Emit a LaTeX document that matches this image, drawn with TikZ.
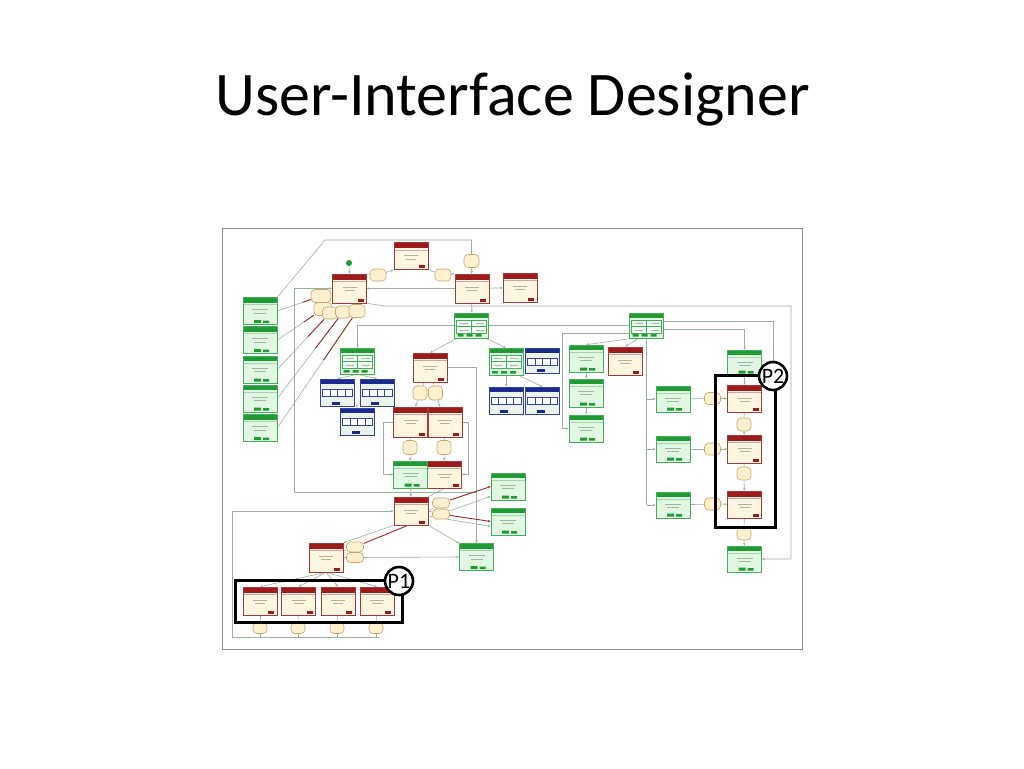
\documentclass[tikz,border=0pt]{standalone}
\usepackage{fontspec}
\setmainfont{Carlito}
\usetikzlibrary{arrows.meta,calc}
\definecolor{rh}{HTML}{9E1B1B}
\definecolor{rb}{HTML}{A33A3A}
\definecolor{rf}{HTML}{FFF6DF}
\definecolor{gh}{HTML}{1F9A35}
\definecolor{gb}{HTML}{45AE5C}
\definecolor{gf}{HTML}{E2F7E2}
\definecolor{bh}{HTML}{1B2A8C}
\definecolor{bb}{HTML}{34449E}
\definecolor{bf}{HTML}{E9F5EC}
\definecolor{of}{HTML}{FFF1D0}
\definecolor{ob}{HTML}{C6A66A}
\definecolor{lc}{HTML}{9DB0A0}
\definecolor{rlc}{HTML}{9C2B2B}
\definecolor{tx}{HTML}{B9B09A}
\definecolor{gtx}{HTML}{9CB8A0}
\pgfdeclarelayer{back}
\pgfdeclarelayer{bg}
\pgfsetlayers{back,bg,main}
\tikzset{
 basebox/.style={minimum width=34pt, minimum height=27pt, inner sep=0pt, line width=0.6pt},
 rbox/.style={basebox, draw=rb, fill=rf, path picture={
   \fill[rh] (path picture bounding box.north west) rectangle ([yshift=-5.5pt]path picture bounding box.north east);
   \draw[rh!40, line width=0.4pt] ([yshift=-7.5pt]path picture bounding box.north west) -- ([yshift=-7.5pt]path picture bounding box.north east);
   \draw[tx, line width=0.8pt] ([xshift=-7pt,yshift=-13pt]path picture bounding box.north) -- ([xshift=7pt,yshift=-13pt]path picture bounding box.north)
     ([xshift=-5pt,yshift=-16.5pt]path picture bounding box.north) -- ([xshift=5pt,yshift=-16.5pt]path picture bounding box.north);
   \fill[rh] ([xshift=-9pt,yshift=1.5pt]path picture bounding box.south east) rectangle ([xshift=-3pt,yshift=4.5pt]path picture bounding box.south east);
   }},
 gbox/.style={basebox, draw=gb, fill=gf, path picture={
   \fill[gh] (path picture bounding box.north west) rectangle ([yshift=-5pt]path picture bounding box.north east);
   \draw[gb!50, line width=0.4pt] ([yshift=-7pt]path picture bounding box.north west) -- ([yshift=-7pt]path picture bounding box.north east);
   \draw[gtx, line width=0.8pt] ([xshift=-8pt,yshift=-12pt]path picture bounding box.north) -- ([xshift=8pt,yshift=-12pt]path picture bounding box.north)
     ([xshift=-6pt,yshift=-15.5pt]path picture bounding box.north) -- ([xshift=6pt,yshift=-15.5pt]path picture bounding box.north);
   \fill[gh] ([xshift=-6pt,yshift=1.5pt]path picture bounding box.south) rectangle ([xshift=1pt,yshift=4.5pt]path picture bounding box.south)
     ([xshift=3pt,yshift=1.5pt]path picture bounding box.south) rectangle ([xshift=9pt,yshift=4pt]path picture bounding box.south);
   }},
 hbox/.style={basebox, draw=gb, fill=gf, path picture={
   \fill[gh] (path picture bounding box.north west) rectangle ([yshift=-5pt]path picture bounding box.north east);
   \draw[gb, line width=0.4pt, fill=white!60!gf] ([xshift=2pt,yshift=-7pt]path picture bounding box.north west) rectangle ([xshift=-2pt,yshift=-20pt]path picture bounding box.north east);
   \draw[gb, line width=0.4pt] ([yshift=-7pt]path picture bounding box.north) -- ([yshift=-20pt]path picture bounding box.north)
     ([xshift=2pt,yshift=-13.5pt]path picture bounding box.north west) -- ([xshift=-2pt,yshift=-13.5pt]path picture bounding box.north east);
   \draw[gtx, line width=0.6pt] ([xshift=-12pt,yshift=-10.3pt]path picture bounding box.north) -- ([xshift=-4pt,yshift=-10.3pt]path picture bounding box.north)
     ([xshift=4pt,yshift=-10.3pt]path picture bounding box.north) -- ([xshift=12pt,yshift=-10.3pt]path picture bounding box.north)
     ([xshift=-12pt,yshift=-16.8pt]path picture bounding box.north) -- ([xshift=-4pt,yshift=-16.8pt]path picture bounding box.north)
     ([xshift=4pt,yshift=-16.8pt]path picture bounding box.north) -- ([xshift=12pt,yshift=-16.8pt]path picture bounding box.north);
   \fill[gh] ([xshift=-14pt,yshift=1.5pt]path picture bounding box.south) rectangle ([xshift=-8pt,yshift=4pt]path picture bounding box.south)
     ([xshift=-5pt,yshift=1.5pt]path picture bounding box.south) rectangle ([xshift=1pt,yshift=4pt]path picture bounding box.south)
     ([xshift=4pt,yshift=1.5pt]path picture bounding box.south) rectangle ([xshift=10pt,yshift=4pt]path picture bounding box.south);
   }},
 bbox/.style={basebox, draw=bb, fill=bf, path picture={
   \fill[bh] (path picture bounding box.north west) rectangle ([yshift=-5pt]path picture bounding box.north east);
   \draw[bb, line width=0.5pt, fill=white] ([xshift=2pt,yshift=-10pt]path picture bounding box.north west) rectangle ([xshift=-2pt,yshift=-17pt]path picture bounding box.north east);
   \draw[bb, line width=0.4pt] ([xshift=-7.5pt,yshift=-10pt]path picture bounding box.north) -- ([xshift=-7.5pt,yshift=-17pt]path picture bounding box.north)
     ([yshift=-10pt]path picture bounding box.north) -- ([yshift=-17pt]path picture bounding box.north)
     ([xshift=7.5pt,yshift=-10pt]path picture bounding box.north) -- ([xshift=7.5pt,yshift=-17pt]path picture bounding box.north);
   \fill[bh] ([xshift=-6pt,yshift=1.5pt]path picture bounding box.south) rectangle ([xshift=2pt,yshift=4.5pt]path picture bounding box.south);
   }},
 oval/.style={draw=ob, fill=of, line width=0.6pt, rounded corners=4pt, minimum width=16pt, minimum height=12pt, inner sep=0pt},
 conn/.style={draw=lc, line width=0.6pt},
 arr/.style={-{Stealth[length=3pt,width=2.4pt]}},
 rl/.style={draw=rlc, line width=0.9pt},
 pbox/.style={draw=black, line width=3pt, inner sep=0pt},
 pcirc/.style={circle, draw=black, fill=white, line width=2.6pt, minimum size=28pt, inner sep=0pt, font=\fontsize{22}{22}\selectfont},
}
\begin{document}
\begin{tikzpicture}[x=1pt,y=-1pt]
\useasboundingbox (0,0) rectangle (1024,768);
\begin{pgfonlayer}{back}
\fill[white] (0,0) rectangle (1024,768);
\end{pgfonlayer}
\node[anchor=base, font=\fontsize{62}{70}\selectfont] (title) at (512.5,115) {User-Interface Designer};
\node[draw=black!45, line width=1pt, minimum width=580pt, minimum height=421pt, inner sep=0pt] (frame) at (512,438.5) {};

% red boxes
\node[rbox] (rT) at (411,256) {};
\node[rbox, minimum height=29pt] (rL) at (349.5,288.5) {};
\node[rbox, minimum height=29pt] (rR) at (472,288.5) {};
\node[rbox, minimum height=29pt] (rRR) at (520,287.5) {};
\node[rbox, minimum height=29pt] (rM) at (430,367.5) {};
\node[rbox, minimum height=30pt] (rPa) at (410.5,422) {};
\node[rbox, minimum height=30pt] (rPb) at (445,422) {};
\node[rbox] (rS) at (444.5,474.5) {};
\node[rbox, minimum height=28pt] (rH) at (411,511) {};
\node[rbox, minimum height=29pt] (rQ) at (326,557.5) {};
\node[rbox, minimum height=28pt] (rPA) at (260,601) {};
\node[rbox, minimum height=28pt] (rPB) at (298.5,601) {};
\node[rbox, minimum height=28pt] (rPC) at (338,601) {};
\node[rbox, minimum height=28pt] (rPD) at (377,601) {};
\node[rbox, minimum height=28pt] (rX) at (625,361) {};
\node[rbox] (rV1) at (744.5,398.5) {};
\node[rbox, minimum height=28pt] (rV2) at (744.5,449) {};
\node[rbox] (rV3) at (744.5,504.5) {};

% green boxes
\node[gbox] (gL1) at (260,311) {};
\node[gbox] (gL2) at (260,340) {};
\node[gbox] (gL3) at (260,369.5) {};
\node[gbox] (gL4) at (260,398.5) {};
\node[gbox] (gL5) at (260,428) {};
\node[hbox, minimum height=25pt] (gH1) at (471.5,325.5) {};
\node[hbox, minimum height=25pt] (gH2) at (646.5,325.5) {};
\node[hbox, minimum height=26pt] (gA) at (357.5,361) {};
\node[hbox] (gB) at (506,361.5) {};
\node[gbox] (gC1) at (586,358.5) {};
\node[gbox, minimum height=28pt] (gC2) at (586,393) {};
\node[gbox] (gC3) at (586,428.5) {};
\node[gbox] (gS) at (410.5,474.5) {};
\node[gbox] (gE1) at (508,486.5) {};
\node[gbox] (gE2) at (508,521.5) {};
\node[gbox] (gF) at (476.5,557) {};
\node[gbox, minimum height=25pt] (gR0) at (744.5,362.5) {};
\node[gbox, minimum height=26pt] (gR1) at (673,399) {};
\node[gbox, minimum height=26pt] (gR2) at (673,449) {};
\node[gbox, minimum height=26pt] (gR3) at (673,505) {};
\node[gbox, minimum height=26pt] (gRB) at (744.5,559) {};

% blue boxes
\node[bbox] (b1) at (337.5,392.5) {};
\node[bbox] (b2) at (377,392.5) {};
\node[bbox] (b3) at (357.5,421.5) {};
\node[bbox, minimum height=25pt] (b4) at (542.5,360.5) {};
\node[bbox] (b5) at (506,400.5) {};
\node[bbox] (b6) at (542.5,400.5) {};

% ovals
\node[oval] (oA) at (378,275) {};
\node[oval] (oB) at (443,275) {};
\node[oval, minimum width=15pt, minimum height=13pt] (oC) at (471.5,261) {};
\node[oval, minimum width=20pt, minimum height=13pt] (oD1) at (321,296) {};
\node[oval, minimum width=18pt, minimum height=13pt] (oD2) at (323,309) {};
\node[oval, minimum width=15pt, minimum height=12pt] (oD3) at (330,313) {};
\node[oval, minimum width=15pt, minimum height=12pt] (oD4) at (343,312) {};
\node[oval, minimum width=16pt, minimum height=13pt] (oD5) at (357,311) {};
\node[oval, minimum width=14pt, minimum height=14pt] (oM1) at (420,393) {};
\node[oval, minimum width=14pt, minimum height=14pt] (oM2) at (435.5,393) {};
\node[oval, minimum width=14pt, minimum height=14pt] (oP1) at (410,447.5) {};
\node[oval, minimum width=14pt, minimum height=14pt] (oP2) at (444,447.5) {};
\node[oval, minimum width=17pt, minimum height=10pt] (oH1) at (441,503) {};
\node[oval, minimum width=17pt, minimum height=10pt] (oH2) at (441,514) {};
\node[oval, minimum width=17pt, minimum height=10pt] (oQ1) at (355,547) {};
\node[oval, minimum width=17pt, minimum height=10pt] (oQ2) at (355,557.5) {};
\node[oval, minimum width=14pt, minimum height=11pt] (oPa) at (260,628) {};
\node[oval, minimum width=14pt, minimum height=11pt] (oPb) at (298,628) {};
\node[oval, minimum width=14pt, minimum height=11pt] (oPc) at (337,628) {};
\node[oval, minimum width=14pt, minimum height=11pt] (oPd) at (376,628) {};
\node[oval] (oR1) at (712.5,398.5) {};
\node[oval] (oR2) at (712.5,449) {};
\node[oval] (oR3) at (712.5,504) {};
\node[oval, minimum width=14pt, minimum height=13pt] (oV1) at (744,424.5) {};
\node[oval, minimum width=14pt, minimum height=13pt] (oV2) at (744,473.5) {};
\node[oval, minimum width=14pt, minimum height=13pt] (oV3) at (744,533.5) {};

\node[circle, fill=gh, minimum size=6pt, inner sep=0pt] (dot) at (349,263) {};

% P groups
\node[pbox, minimum width=167pt, minimum height=42pt] (P1box) at (318.5,601) {};
\node[pcirc] (p1c) at (399,581) {P1};
\node[pbox, minimum width=60pt, minimum height=152pt] (P2box) at (745,451) {};
\node[pcirc] (p2c) at (773,376) {P2};

\coordinate (t1) at (325,240);
\coordinate (t2) at (471.5,240);
\coordinate (c1) at (385,306);
\coordinate (c2) at (791,306);
\coordinate (c3) at (791,559);
\coordinate (v1) at (294,288.5);
\coordinate (v2) at (294,492);
\coordinate (v3) at (477,492);
\coordinate (tl) at (232,511);
\coordinate (bl) at (232,637);
\coordinate (br) at (379,637);
\coordinate (h1) at (562,333.5);

\begin{pgfonlayer}{bg}
\draw[conn] (gL1.north east) -- (t1) -- (t2) -- (oC.north);
\draw[conn,arr] (oC) -- (rR);
\draw[conn,arr] (dot) -- (rL.north);
\draw[conn] (rL.north east) -- (oA);
\draw[conn,arr] (oA) -- (rT.south west);
\draw[conn] (rT.south east) -- (oB);
\draw[conn,arr] (oB) -- (rR.north west);
\draw[conn,arr] (rR) -- (rRR);
\draw[conn,arr] (rR.west) -- (rL.east);
\draw[conn,arr] (rL.south east) -- (c1) -- (c2) -- (c3) -- (gRB.east);
\draw[conn,arr] (v1) -- (rL.west);
\draw[conn] (v1) -- (v2) -- (v3);
\foreach \g/\o in {gL1/oD1, gL2/oD2, gL3/oD3, gL4/oD4, gL5/oD5} {
  \draw[conn] (\g.east) -- (\o);
  \draw[rl] (\o) -- ($(\o)!0.42!(\g.east)$);
}
\draw[conn,arr] (rR) -- (gH1);
\draw[conn,arr] (gH1.west) -| (gA.north);
\draw[conn] (gH1.east) -- (gH2.west);
\draw[conn,arr] ([xshift=3pt]gH1.south west) -- (rM.north);
\draw[conn,arr] ([xshift=-3pt]gH1.south east) -- (gB.north);
\draw[conn,arr] (gA.south) -- (b1.north);
\draw[conn,arr] (gA.south) -- (b2.north);
\draw[conn,arr] ($(b1.south east)!0.5!(b2.south west)$) -- (b3.north);
\draw[conn,arr] (gB.south) -- (b5.north);
\draw[conn,arr] ([xshift=-5pt]gB.south east) -- (b6.north);
\draw[conn] (rM) -- (oM1);
\draw[conn] (rM) -- (oM2);
\draw[conn,arr] (oM1) -- (rPa);
\draw[conn,arr] (oM2) -- (rPb);
\draw[conn,arr] (rM.east) -| (gF.north);
\draw[conn] (rPa) -- (oP1);
\draw[conn,arr] (oP1) -- (gS);
\draw[conn] (rPb) -- (oP2);
\draw[conn,arr] (oP2) -- (rS);
\draw[conn,arr] (rPa.west) -- ++(-10,0) |- (gS.west);
\draw[conn,arr] (rPb.east) -- ++(6,0) |- (rS.east);
\draw[conn,arr] (gS) -- (rH);
\draw[conn] (rS.south) -- (rH.north east);
\draw[conn] (rH.east) -- (oH1);
\draw[conn] (rH.east) -- (oH2);
\draw[rl,arr] (oH1) -- (gE1.west);
\draw[rl,arr] (oH2) -- (gE2.west);
\draw[conn,arr] (oH2) -- ([yshift=4pt]gE1.south west);
\draw[conn,arr] ([yshift=-5pt]rH.east) -- ([yshift=-5pt]gE2.west);
\draw[conn,arr] (rH.south west) -- (rQ.north east);
\draw[rl] ([xshift=-3pt]rH.south) -- (oQ1);
\draw[conn,arr] (rH.south east) -- (gF.north west);
\draw[conn] (rQ) -- (oQ1);
\draw[conn] (rQ) -- (oQ2);
\draw[conn,arr] (oQ2) -- (gF.west);
\foreach \p/\o in {rPA/oPa, rPB/oPb, rPC/oPc, rPD/oPd} {
  \draw[conn,arr] (rQ.south) -- (\p.north);
  \draw[conn] (\p) -- (\o);
  \draw[conn] (\o) -- (\o |- bl);
}
\draw[conn] (bl) -- (br);
\draw[conn,arr] (bl) -- (tl) -- (rH.west);
\draw[conn,arr] ([xshift=4pt]gH2.south west) -- (gC1.north);
\draw[conn,arr] ([yshift=-8pt]gH2.west) -- (h1) |- (gC3.west);
\draw[conn,arr] (gC1) -- (gC2);
\draw[conn,arr] (gC2) -- (gC3);
\draw[conn,arr] ([xshift=-8pt]gH2.south) -- (rX.north);
\draw[conn] (gH2.south) -- (gH2.south |- gR3.west);
\foreach \r/\o/\v in {gR1/oR1/rV1, gR2/oR2/rV2, gR3/oR3/rV3} {
  \draw[conn,arr] (gH2.south |- \r.west) -- (\r.west);
  \draw[conn] (\r) -- (\o);
  \draw[conn,arr] (\o) -- (\v);
}
\draw[conn,arr] ([yshift=-4pt]gH2.east) -| (gR0.north);
\draw[conn] ([yshift=4pt]gH2.east) -| (p2c.north);
\draw[conn,arr] (gR0) -- (rV1);
\draw[conn] (rV1) -- (oV1);
\draw[conn,arr] (oV1) -- (rV2);
\draw[conn] (rV2) -- (oV2);
\draw[conn,arr] (oV2) -- (rV3);
\draw[conn] (rV3) -- (oV3);
\draw[conn,arr] (oV3) -- (gRB);
\end{pgfonlayer}
\end{tikzpicture}
\end{document}
